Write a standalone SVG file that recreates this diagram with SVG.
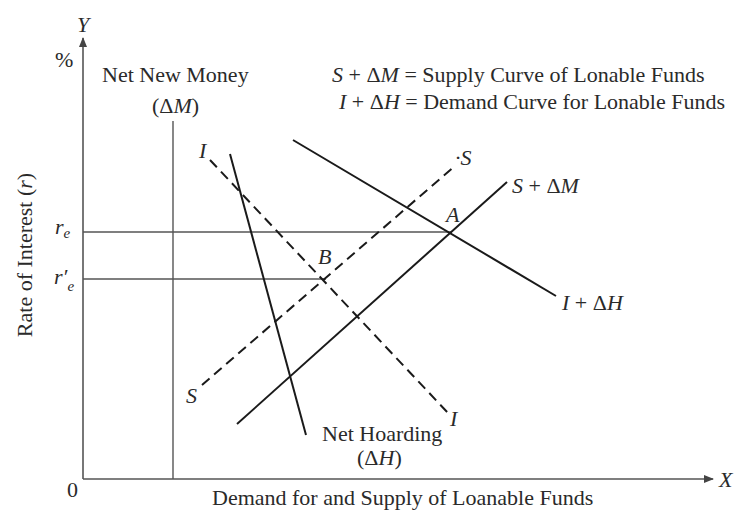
<svg xmlns="http://www.w3.org/2000/svg" width="739" height="516" viewBox="0 0 739 516">
<defs>
<style>
text{font-family:"Liberation Serif","Times New Roman",serif;font-size:22px;fill:#2a2a2a}
.it{font-style:italic}
.sub{font-size:15px;font-style:italic}
.ax{stroke:#555;stroke-width:1.6;fill:none}
.thin{stroke:#555;stroke-width:1.4;fill:none}
.cv{stroke:#1a1a1a;stroke-width:2;fill:none}
.ds{stroke:#1a1a1a;stroke-width:2;fill:none;stroke-dasharray:10,6}
</style>
<marker id="arr" markerWidth="10" markerHeight="8" refX="9" refY="4" orient="auto" markerUnits="userSpaceOnUse">
<path d="M0,0 L10,4 L0,8 Z" fill="#444"/>
</marker>
</defs>
<rect width="739" height="516" fill="#fff"/>
<g id="axes">
<line class="ax" x1="83" y1="479" x2="83" y2="38" marker-end="url(#arr)"/>
<line class="ax" x1="83" y1="479" x2="713" y2="479" marker-end="url(#arr)"/>
<text x="77" y="32" class="it">Y</text>
<text x="55" y="67">%</text>
<text x="67" y="497">0</text>
<text x="719" y="487" class="it">X</text>
<text x="212" y="505">Demand for and Supply of Loanable Funds</text>
<text transform="translate(32,255) rotate(-90)" text-anchor="middle">Rate of Interest (<tspan class="it">r</tspan>)</text>
</g>
<g id="connectors">
<line class="thin" x1="83" y1="232" x2="452" y2="232"/>
<line class="thin" x1="83" y1="279" x2="326" y2="279"/>
<line class="thin" x1="173" y1="121" x2="173" y2="479"/>
<line id="demand-shift" class="cv" x1="293" y1="140" x2="556" y2="296"/>
<line id="supply-shift" class="cv" x1="237" y1="424" x2="507" y2="182"/>
<line id="hoarding" class="cv" x1="230" y1="154" x2="306" y2="435"/>
<line id="supply" class="ds" x1="202" y1="385" x2="456" y2="165"/>
<line id="investment" class="ds" x1="210" y1="160" x2="449" y2="414"/>
</g>
<g id="labels">
<text x="102" y="82">Net New Money</text>
<text x="152" y="113">(Δ<tspan class="it">M</tspan>)</text>
<text x="332" y="82"><tspan class="it">S</tspan> + Δ<tspan class="it">M</tspan> = Supply Curve of Lonable Funds</text>
<text x="339" y="109"><tspan class="it">I</tspan> + Δ<tspan class="it">H</tspan> = Demand Curve for Lonable Funds</text>
<text x="55" y="234" class="it">r<tspan class="sub" dy="4">e</tspan></text>
<text x="54" y="284" class="it">r′<tspan class="sub" dy="7">e</tspan></text>
<text x="199" y="158" class="it">I</text>
<text x="455" y="165" class="it">·S</text>
<text x="512" y="193"><tspan class="it">S</tspan> + Δ<tspan class="it">M</tspan></text>
<text x="446" y="222" class="it">A</text>
<text x="318" y="264" class="it">B</text>
<text x="562" y="310"><tspan class="it">I</tspan> + Δ<tspan class="it">H</tspan></text>
<text x="186" y="403" class="it">S</text>
<text x="450" y="426" class="it">I</text>
<text x="322" y="441">Net Hoarding</text>
<text x="357" y="465">(Δ<tspan class="it">H</tspan>)</text>
</g>
</svg>
